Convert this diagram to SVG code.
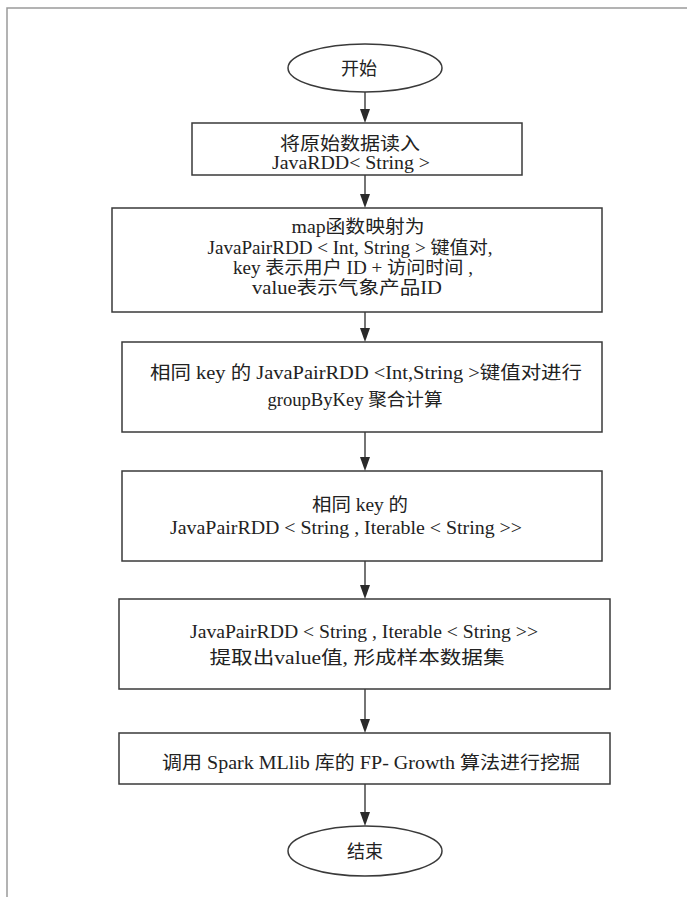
<svg xmlns="http://www.w3.org/2000/svg" width="687" height="897" viewBox="0 0 687 897">
<style>
.frame{stroke:#9a9a9a;stroke-width:1.5;fill:none}
.box{fill:#fff;stroke:#3a3a3a;stroke-width:1.5}
.t{font-family:"Liberation Serif","Times New Roman","DejaVu Serif","Noto Sans CJK SC",serif;font-size:18px;fill:#222;text-anchor:middle}
.c{stroke:#2a2a2a;stroke-width:1.3;fill:none}
.ah{fill:#2a2a2a}
</style>
<rect width="687" height="897" fill="#fff"/>
<path class="frame" d="M7,897 L7,8 L687,8"/>
<g id="connectors">
<line class="c" x1="365" y1="92" x2="365" y2="112"/>
<path class="ah" d="M360,109 L370,109 L365,123 Z"/>
<line class="c" x1="365" y1="175" x2="365" y2="197"/>
<path class="ah" d="M360,194 L370,194 L365,208 Z"/>
<line class="c" x1="365" y1="312" x2="365" y2="331"/>
<path class="ah" d="M360,328 L370,328 L365,342 Z"/>
<line class="c" x1="365" y1="432" x2="365" y2="460"/>
<path class="ah" d="M360,457 L370,457 L365,471 Z"/>
<line class="c" x1="365" y1="561" x2="365" y2="588"/>
<path class="ah" d="M360,585 L370,585 L365,599 Z"/>
<line class="c" x1="365" y1="689" x2="365" y2="722"/>
<path class="ah" d="M360,719 L370,719 L365,733 Z"/>
<line class="c" x1="365" y1="784" x2="365" y2="815"/>
<path class="ah" d="M360,812 L370,812 L365,826 Z"/>
</g>
<g id="start">
<ellipse class="box" cx="365" cy="68" rx="77" ry="24"/>
<text class="t" x="359" y="75">开始</text>
</g>
<g id="n1">
<rect class="box" x="192" y="123" width="330" height="52"/>
<text class="t" x="350" y="150" font-size="17" textLength="140" lengthAdjust="spacingAndGlyphs">将原始数据读入</text>
<text class="t" x="351" y="169" font-size="17" textLength="158" lengthAdjust="spacingAndGlyphs">JavaRDD&lt; String &gt;</text>
</g>
<g id="n2">
<rect class="box" x="112" y="208" width="490" height="104"/>
<text class="t" x="358" y="233" textLength="133" lengthAdjust="spacingAndGlyphs">map函数映射为</text>
<text class="t" x="350" y="254" textLength="285" lengthAdjust="spacingAndGlyphs">JavaPairRDD &lt; Int, String &gt; 键值对,</text>
<text class="t" x="353" y="274" textLength="240" lengthAdjust="spacingAndGlyphs">key 表示用户 ID + 访问时间 ,</text>
<text class="t" x="347" y="294" textLength="190" lengthAdjust="spacingAndGlyphs">value表示气象产品ID</text>
</g>
<g id="n3">
<rect class="box" x="122" y="342" width="480" height="90"/>
<text class="t" x="366" y="379" textLength="432" lengthAdjust="spacingAndGlyphs">相同 key 的 JavaPairRDD &lt;Int,String &gt;键值对进行</text>
<text class="t" x="355" y="406" textLength="175" lengthAdjust="spacingAndGlyphs">groupByKey 聚合计算</text>
</g>
<g id="n4">
<rect class="box" x="122" y="471" width="480" height="90"/>
<text class="t" x="360" y="511" textLength="96" lengthAdjust="spacingAndGlyphs">相同 key 的</text>
<text class="t" x="346" y="534" textLength="352" lengthAdjust="spacingAndGlyphs">JavaPairRDD &lt; String , Iterable &lt; String &gt;&gt;</text>
</g>
<g id="n5">
<rect class="box" x="119" y="599" width="491" height="90"/>
<text class="t" x="364" y="638" textLength="348" lengthAdjust="spacingAndGlyphs">JavaPairRDD &lt; String , Iterable &lt; String &gt;&gt;</text>
<text class="t" x="357" y="664" textLength="295" lengthAdjust="spacingAndGlyphs">提取出value值, 形成样本数据集</text>
</g>
<g id="n6">
<rect class="box" x="119" y="733" width="491" height="51"/>
<text class="t" x="371" y="769" textLength="418" lengthAdjust="spacingAndGlyphs">调用 Spark MLlib 库的 FP- Growth 算法进行挖掘</text>
</g>
<g id="end">
<ellipse class="box" cx="365" cy="851" rx="77" ry="25"/>
<text class="t" x="365" y="858">结束</text>
</g>
</svg>
